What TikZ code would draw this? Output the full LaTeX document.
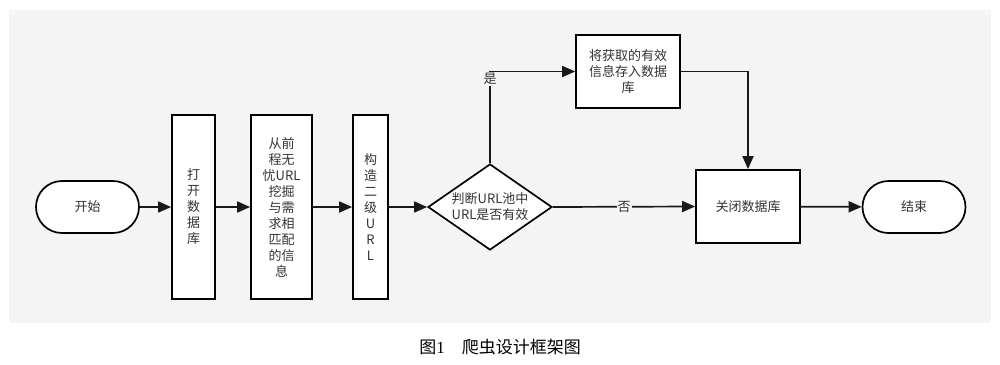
\documentclass[tikz,border=0pt]{standalone}
\usepackage{fontspec}
\setmainfont{Noto Sans CJK SC}
\usetikzlibrary{arrows.meta,shapes.geometric}
\definecolor{bgc}{HTML}{F4F4F4}
\definecolor{txt}{HTML}{333333}
\begin{document}
\begin{tikzpicture}[x=1pt,y=-1pt,
  every node/.style={text=txt, font=\fontsize{13}{16}\selectfont, inner sep=0pt},
  box/.style={draw=black, line width=1.7pt, fill=white, align=center},
  term/.style={box, rounded corners=26pt, minimum width=103pt, minimum height=52pt},
  decide/.style={draw=black, line width=1.7pt, fill=white, diamond, aspect=1.44, align=center, minimum width=124pt, minimum height=86pt},
  arr/.style={draw=black!90, line width=1.7pt, -{Triangle[length=13pt,width=11pt]}},
  lbl/.style={fill=bgc, inner sep=1pt}
]
\useasboundingbox (0,0) rectangle (1000,364);
\fill[white] (0,0) rectangle (1000,364);
\fill[bgc] (9,10) rectangle (991,323);

\node[term] (start) at (87.5,207) {开始};
\node[box, minimum width=43pt, minimum height=184pt] (open) at (193.5,207) {打\\开\\数\\据\\库};
\node[box, minimum width=61pt, minimum height=184pt] (mine) at (281.5,207) {从前\\程无\\忧URL\\挖掘\\与需\\求相\\匹配\\的信\\息};
\node[box, minimum width=35pt, minimum height=184pt] (build) at (370.5,207) {构\\造\\二\\级\\U\\R\\L};
\node[decide] (judge) at (490,207) {判断URL池中\\URL是否有效};
\node[box, minimum width=104pt, minimum height=73pt] (store) at (628,71.5) {将获取的有效\\信息存入数据\\库};
\node[box, minimum width=104pt, minimum height=73pt] (close) at (748,206.5) {关闭数据库};
\node[term] (end) at (914,207) {结束};

\draw[arr] (start) -- (open);
\draw[arr] (open) -- (mine);
\draw[arr] (mine) -- (build);
\draw[arr] (build) -- (judge);
\draw[arr] (judge.north) |- node[lbl, pos=0.46] {是} (store.west);
\draw[arr] (store.east) -| (close.north);
\draw[arr] (judge.east) -- node[lbl] {否} (close.west);
\draw[arr] (close) -- (end);

\node[text=black, font=\fontsize{17}{20}\selectfont] (cap) at (500,347) {图{\fontspec{Liberation Serif}1}\quad 爬虫设计框架图};
\end{tikzpicture}
\end{document}
